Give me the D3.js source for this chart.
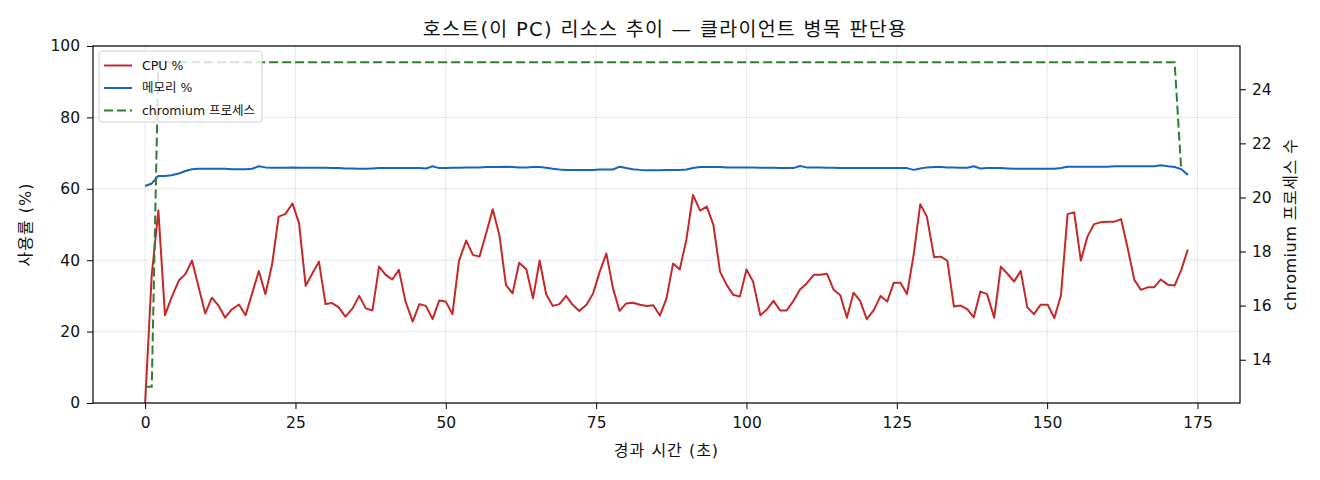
<!DOCTYPE html>
<html><head><meta charset="utf-8">
<script src="https://cdn.jsdelivr.net/npm/d3@7/dist/d3.min.js"></script>
<style>
html,body{margin:0;padding:0;background:#fff;}
svg{display:block;font-family:"DejaVu Sans","Noto Sans CJK KR",sans-serif;}
</style></head>
<body>
<svg id="chart" width="1320" height="480"></svg>
<script>
const times = [
0.0,1.1,2.2,3.3,4.4,5.6,6.7,7.8,8.9,10.0,
11.1,12.2,13.3,14.4,15.6,16.7,17.8,18.9,20.0,21.1,
22.2,23.3,24.5,25.6,26.7,27.8,28.9,30.0,31.1,32.2,
33.3,34.5,35.6,36.7,37.8,38.9,40.0,41.1,42.2,43.3,
44.5,45.6,46.7,47.8,48.9,50.0,51.1,52.2,53.4,54.5,
55.6,56.7,57.8,58.9,60.0,61.1,62.2,63.4,64.5,65.6,
66.7,67.8,68.9,70.0,71.1,72.2,73.4,74.5,75.6,76.7,
77.8,78.9,80.0,81.1,82.3,83.4,84.5,85.6,86.7,87.8,
88.9,90.0,91.1,92.3,93.4,94.5,95.6,96.7,97.8,98.9,
100.0,101.1,102.3,103.4,104.5,105.6,106.7,107.8,108.9,110.0,
111.2,112.3,113.4,114.5,115.6,116.7,117.8,118.9,120.0,121.2,
122.3,123.4,124.5,125.6,126.7,127.8,128.9,130.0,131.2,132.3,
133.4,134.5,135.6,136.7,137.8,138.9,140.0,141.2,142.3,143.4,
144.5,145.6,146.7,147.8,148.9,150.1,151.2,152.3,153.4,154.5,
155.6,156.7,157.8,158.9,160.1,161.2,162.3,163.4,164.5,165.6,
166.7,167.8,168.9,170.1,171.2,172.3,173.4
];
const cpuPct = [
0,35.9,53.9,24.6,29.6,34.3,36.1,39.9,32.4,25.1,
29.5,27.3,23.9,26.2,27.6,24.6,30.7,37.0,30.5,38.7,
52.2,52.9,55.9,50.3,32.8,36.3,39.6,27.7,28.0,26.8,
24.2,26.5,30.0,26.5,25.9,38.2,35.9,34.6,37.3,28.4,
22.8,27.7,27.2,23.5,28.7,28.4,24.9,39.9,45.5,41.5,
41.0,47.5,54.3,47.1,33.1,30.7,39.3,37.4,29.3,39.9,
30.4,27.2,27.7,30.0,27.5,25.8,27.5,30.7,36.8,41.9,
32.1,25.8,27.9,28.1,27.5,27.2,27.4,24.5,29.3,39.1,
37.4,45.7,58.3,53.9,55.0,49.9,36.8,33.1,30.3,29.8,
37.4,34.0,24.6,26.2,28.6,25.9,25.9,28.6,31.8,33.5,
35.9,35.9,36.2,31.7,30.2,23.9,30.9,28.6,23.5,26.1,
30.0,28.4,33.7,33.7,30.5,41.5,55.7,52.2,40.8,41.0,
39.9,27.0,27.3,26.3,24.0,31.2,30.5,23.9,38.2,36.2,
34.0,37.0,26.8,24.9,27.5,27.5,23.8,30.2,52.9,53.4,
39.9,46.6,50.1,50.6,50.8,50.8,51.5,43.3,34.5,31.7,
32.4,32.4,34.6,33.1,32.9,37.3,43.0
];
const memPct = [
60.8,61.5,63.6,63.6,63.8,64.3,65.0,65.5,65.6,65.6,
65.6,65.6,65.6,65.5,65.5,65.5,65.6,66.3,66.0,65.9,
65.9,65.9,66.0,65.9,65.9,65.9,65.9,65.9,65.8,65.8,
65.7,65.7,65.6,65.6,65.7,65.8,65.8,65.8,65.8,65.8,
65.8,65.8,65.7,66.3,65.8,65.8,65.9,65.9,66.0,66.0,
66.0,66.1,66.1,66.1,66.2,66.1,66.0,66.0,66.1,66.1,
65.9,65.6,65.4,65.3,65.3,65.3,65.3,65.3,65.4,65.4,
65.4,66.2,65.8,65.5,65.3,65.2,65.2,65.2,65.3,65.3,
65.3,65.4,65.8,66.1,66.1,66.1,66.1,66.0,66.0,66.0,
66.0,66.0,65.9,65.9,65.9,65.8,65.8,65.8,66.4,66.0,
66.0,66.0,65.9,65.9,65.8,65.8,65.8,65.8,65.8,65.8,
65.8,65.8,65.8,65.8,65.8,65.3,65.7,66.0,66.1,66.1,
66.0,66.0,65.9,65.9,66.3,65.7,65.8,65.8,65.8,65.7,
65.6,65.6,65.6,65.6,65.6,65.6,65.6,65.8,66.2,66.2,
66.2,66.2,66.2,66.2,66.2,66.3,66.3,66.3,66.3,66.3,
66.3,66.3,66.6,66.3,66.1,65.5,63.9
];
const procCount = [
13,13,25,25,25,25,25,25,25,25,25,25,25,25,25,25,25,25,25,25,
25,25,25,25,25,25,25,25,25,25,25,25,25,25,25,25,25,25,25,25,
25,25,25,25,25,25,25,25,25,25,25,25,25,25,25,25,25,25,25,25,
25,25,25,25,25,25,25,25,25,25,25,25,25,25,25,25,25,25,25,25,
25,25,25,25,25,25,25,25,25,25,25,25,25,25,25,25,25,25,25,25,
25,25,25,25,25,25,25,25,25,25,25,25,25,25,25,25,25,25,25,25,
25,25,25,25,25,25,25,25,25,25,25,25,25,25,25,25,25,25,25,25,
25,25,25,25,25,25,25,25,25,25,25,25,25,25,25,21
];
const xTicks = [0,25,50,75,100,125,150,175];
const yTicks = [0,20,40,60,80,100];
const y2Ticks = [14,16,18,20,22,24];
const legendLabels = ["CPU %","메모리 %","chromium 프로세스"];
const titleText = "호스트(이 PC) 리소스 추이 — 클라이언트 병목 판단용";
const xLabel = "경과 시간 (초)";
const yLabel = "사용률 (%)";
const y2Label = "chromium 프로세스 수";

const colors = {cpu:"#c62828", mem:"#1565c0", proc:"#2e7d32"};
const M = {left:93, right:1240, top:46, bottom:403};
const FONT = '"DejaVu Sans","Noto Sans CJK KR",sans-serif';

const svg = d3.select("#chart");
const tMin = d3.min(times), tMax = d3.max(times), tPad = (tMax - tMin) * 0.05;
const x = d3.scaleLinear().domain([tMin - tPad, tMax + tPad]).range([M.left, M.right]);
const y = d3.scaleLinear().domain([0, 100]).range([M.bottom, M.top]);
const pMin = d3.min(procCount), pMax = d3.max(procCount), pPad = (pMax - pMin) * 0.05;
const y2 = d3.scaleLinear().domain([pMin - pPad, pMax + pPad]).range([M.bottom, M.top]);

// grid
const grid = svg.append("g");
grid.selectAll("line.gx").data(xTicks).join("line")
  .attr("x1", d => x(d)).attr("x2", d => x(d)).attr("y1", M.top).attr("y2", M.bottom)
  .attr("stroke", "#b0b0b0").attr("stroke-opacity", 0.3).attr("stroke-width", 1);
grid.selectAll("line.gy").data(yTicks).join("line")
  .attr("x1", M.left).attr("x2", M.right).attr("y1", d => y(d)).attr("y2", d => y(d))
  .attr("stroke", "#b0b0b0").attr("stroke-opacity", 0.3).attr("stroke-width", 1);

svg.append("clipPath").attr("id","clip").append("rect")
  .attr("x", M.left).attr("y", M.top).attr("width", M.right - M.left).attr("height", M.bottom - M.top);

const plot = svg.append("g").attr("clip-path","url(#clip)");
const idx = d3.range(times.length);
const lineCpu = d3.line().x(i => x(times[i])).y(i => y(cpuPct[i]));
const lineMem = d3.line().x(i => x(times[i])).y(i => y(memPct[i]));
const lineProc = d3.line().x(i => x(times[i])).y(i => y2(procCount[i]));

plot.append("path").attr("d", lineCpu(idx)).attr("fill","none").attr("stroke",colors.cpu)
  .attr("stroke-width",2).attr("stroke-linejoin","round");
plot.append("path").attr("d", lineMem(idx)).attr("fill","none").attr("stroke",colors.mem)
  .attr("stroke-width",2).attr("stroke-linejoin","round");
plot.append("path").attr("d", lineProc(idx)).attr("fill","none").attr("stroke",colors.proc)
  .attr("stroke-width",2).attr("stroke-dasharray","9,4");

// axes
const fs = 15.5;
const gx = svg.append("g").attr("transform",`translate(0,${M.bottom})`)
  .call(d3.axisBottom(x).tickValues(xTicks).tickSize(6).tickPadding(8));
const gy = svg.append("g").attr("transform",`translate(${M.left},0)`)
  .call(d3.axisLeft(y).tickValues(yTicks).tickSize(6).tickPadding(7));
const gy2 = svg.append("g").attr("transform",`translate(${M.right},0)`)
  .call(d3.axisRight(y2).tickValues(y2Ticks).tickSize(6).tickPadding(6));
[gx,gy,gy2].forEach(g => {
  g.select(".domain").remove();
  g.selectAll(".tick line").attr("stroke","#000").attr("stroke-width",1);
  g.selectAll(".tick text").attr("fill","#111").style("font-size", fs+"px").style("font-family", FONT);
});
svg.append("rect").attr("x",M.left).attr("y",M.top).attr("width",M.right-M.left).attr("height",M.bottom-M.top)
  .attr("fill","none").attr("stroke","#000").attr("stroke-width",1.2);

// title & labels
svg.append("text").attr("x",665).attr("y",36).attr("text-anchor","middle")
  .style("font-size","19.5px").style("letter-spacing","1.3px").attr("fill","#111").text(titleText);
svg.append("text").attr("x",(M.left+M.right)/2).attr("y",456).attr("text-anchor","middle")
  .style("font-size","16px").style("letter-spacing","1px").attr("fill","#111").text(xLabel);
svg.append("text").attr("transform",`translate(31,${(M.top+M.bottom)/2}) rotate(-90)`).attr("text-anchor","middle")
  .style("font-size","16px").style("letter-spacing","1px").attr("fill","#111").text(yLabel);
svg.append("text").attr("transform",`translate(1296,${(M.top+M.bottom)/2}) rotate(-90)`).attr("text-anchor","middle")
  .style("font-size","16px").style("letter-spacing","0.5px").attr("fill","#111").text(y2Label);

// legend
const lg = svg.append("g");
lg.append("rect").attr("x",99).attr("y",51).attr("width",163).attr("height",71).attr("rx",3)
  .attr("fill","#fff").attr("fill-opacity",0.8).attr("stroke","#d0d0d0").attr("stroke-width",1);
const lgColors = [colors.cpu, colors.mem, colors.proc];
const lgDash = [null, null, "9,4"];
legendLabels.forEach((lab,i) => {
  const yy = 65.5 + i*22.5;
  lg.append("line").attr("x1",104).attr("x2",132).attr("y1",yy).attr("y2",yy)
    .attr("stroke",lgColors[i]).attr("stroke-width",2).attr("stroke-dasharray",lgDash[i]);
  lg.append("text").attr("x",142).attr("y",yy).attr("dy","0.35em").style("font-size","12.5px")
    .attr("fill","#111").text(lab);
});
</script>
</body></html>
